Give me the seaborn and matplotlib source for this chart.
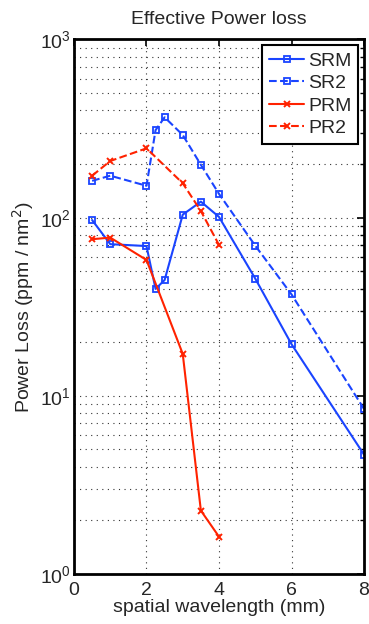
import pandas as pd
import matplotlib
matplotlib.use("Agg")
import matplotlib.pyplot as plt
import seaborn as sns

# Data
srm_x = [0.5, 1.0, 2.0, 2.25, 2.5, 3.0, 3.5, 4.0, 5.0, 6.0, 8.0]
srm_y = [97, 71, 69.3, 39.8, 44.7, 104, 123, 101, 45.5, 19.5, 4.68]

sr2_x = [0.5, 1.0, 2.0, 2.25, 2.5, 3.0, 3.5, 4.0, 5.0, 6.0, 8.0]
sr2_y = [161, 172, 151, 310, 366, 291, 198, 136, 69.6, 37.1, 8.44]

prm_x = [0.5, 1.0, 2.0, 3.0, 3.5, 4.0]
prm_y = [75.7, 77.3, 57.9, 17.2, 2.27, 1.62]

pr2_x = [0.5, 1.0, 2.0, 3.0, 3.5, 4.0]
pr2_y = [172, 208, 245, 156, 109, 70.3]

blue = "#1a44ff"
red = "#ff2200"

sns.set_style("white")
plt.rcParams['font.family'] = ['Liberation Sans', 'DejaVu Sans']

fig = plt.figure(figsize=(3.69, 6.24), dpi=100)
ax = fig.add_axes([0.2005, 0.0801, 0.786, 0.8566])

sq = dict(marker='s', markersize=5, markerfacecolor='none',
          markeredgecolor=blue, markeredgewidth=1.3)
cross = dict(marker='x', markersize=4.5, markeredgecolor=red, markeredgewidth=1.4)

sns.lineplot(x=srm_x, y=srm_y, ax=ax, color=blue, linewidth=1.5, label='SRM', **sq)
sns.lineplot(x=sr2_x, y=sr2_y, ax=ax, color=blue, linewidth=1.5, linestyle='--',
             dashes=(4, 3), label='SR2', **sq)
sns.lineplot(x=prm_x, y=prm_y, ax=ax, color=red, linewidth=1.5, label='PRM', **cross)
sns.lineplot(x=pr2_x, y=pr2_y, ax=ax, color=red, linewidth=1.5, linestyle='--',
             dashes=(4, 3), label='PR2', **cross)

ax.set_yscale('log')
ax.set_xlim(0, 8)
ax.set_ylim(1, 1000)
ax.set_xticks([0, 2, 4, 6, 8])

grid_kw = dict(linestyle=(0, (1, 4)), color='#333333', linewidth=0.8)
ax.grid(True, which='major', axis='both', **grid_kw)
ax.grid(True, which='minor', axis='y', **grid_kw)
ax.set_axisbelow(True)

for s in ax.spines.values():
    s.set_color('black')
    s.set_linewidth(2)

ax.tick_params(which='both', direction='in', top=True, right=True,
               color='black', labelsize=14)
ax.tick_params(which='major', length=5, width=1.2)
ax.tick_params(which='minor', length=3, width=1.0)
ax.tick_params(axis='x', pad=6)
ax.tick_params(axis='y', pad=2)

ax.set_title("Effective Power loss", fontsize=14, pad=11)
ax.set_xlabel("spatial wavelength (mm)", fontsize=14, labelpad=0)
ax.set_ylabel("Power Loss (ppm / nm$^2$)", fontsize=14, labelpad=3)

leg = ax.legend(loc='upper right', fontsize=14, frameon=True, fancybox=False,
                borderaxespad=0.3, handlelength=1.8, handletextpad=0.2,
                labelspacing=0.25, borderpad=0.35)
leg.get_frame().set_edgecolor('black')
leg.get_frame().set_linewidth(1.5)
leg.get_frame().set_alpha(1)

fig.savefig("out.png", dpi=100)
